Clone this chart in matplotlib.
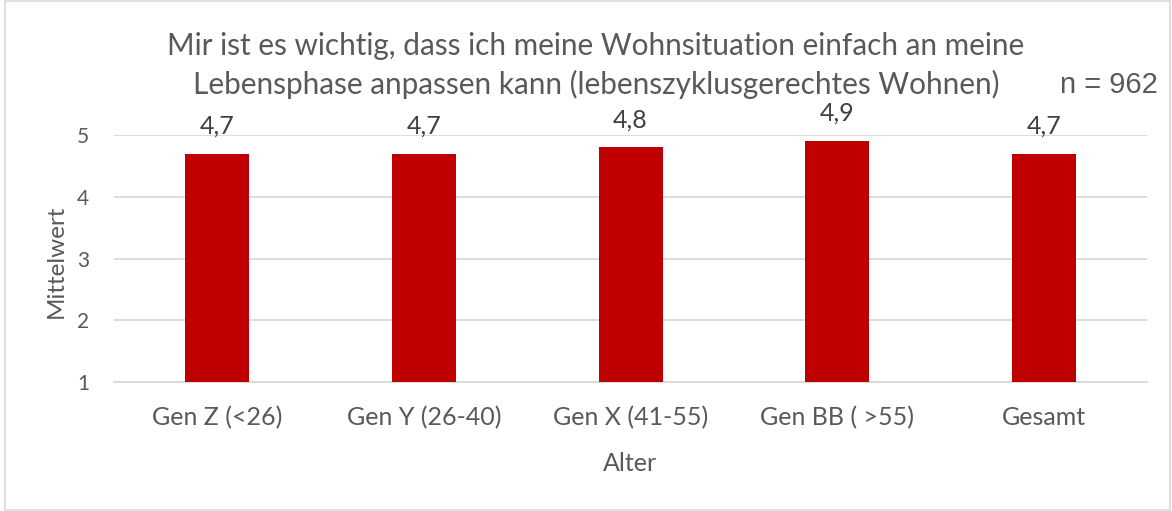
import matplotlib
matplotlib.use("Agg")
import matplotlib.pyplot as plt
from matplotlib.patches import Rectangle

# Mittelwerte nach Altersgruppe
categories = ["Gen Z (<26)", "Gen Y (26-40)", "Gen X (41-55)", "Gen BB ( >55)", "Gesamt"]
values = [4.7, 4.7, 4.8, 4.9, 4.7]
y_ticks = [1, 2, 3, 4, 5]

title = ("Mir ist es wichtig, dass ich meine Wohnsituation einfach an meine\n"
         "Lebensphase anpassen kann (lebenszyklusgerechtes Wohnen)")
sample_note = "n = 962"

text_color = "#595959"
bar_color = "#C00000"
grid_color = "#D9D9D9"

plt.rcParams["font.family"] = ["Lato", "DejaVu Sans"]

fig = plt.figure(figsize=(11.72, 5.11), dpi=100)
ax = fig.add_axes([0.0973, 0.2524, 0.8814, 0.4834])

x = list(range(len(categories)))
ax.bar(x, [v - 1 for v in values], bottom=1, width=0.31, color=bar_color, zorder=3)

for xi, v in zip(x, values):
    ax.annotate(f"{v:.1f}".replace(".", ","), (xi, v), xytext=(0, 14.5),
                textcoords="offset points", ha="center", va="baseline",
                fontsize=18, color="#404040")

ax.set_xlim(-0.5, len(categories) - 0.5)
ax.set_ylim(1, 5)
ax.set_yticks(y_ticks)
ax.set_xticks(x)
ax.set_xticklabels(categories)
ax.yaxis.grid(True, color=grid_color, linewidth=1.3, zorder=0)
ax.set_axisbelow(True)
for s in ax.spines.values():
    s.set_visible(False)
ax.spines["bottom"].set_visible(True)
ax.spines["bottom"].set_color(grid_color)
ax.spines["bottom"].set_linewidth(1.3)
ax.tick_params(axis="both", length=0, colors=text_color)
ax.tick_params(axis="y", labelsize=15, pad=18)
ax.tick_params(axis="x", labelsize=18, pad=17)

ax.set_xlabel("Alter", fontsize=18, color=text_color, va="center")
ax.xaxis.set_label_coords(0.4995, -0.328)
ax.set_ylabel("Mittelwert", fontsize=17.5, color=text_color, va="center")
ax.yaxis.set_label_coords(-0.056, 0.49)

fig.text(0.5085, 0.872, title, ha="center", va="center", fontsize=21.4,
         color=text_color, linespacing=1.42)
fig.text(0.988, 0.833, sample_note, ha="right", va="center", fontsize=21,
         color=text_color, family=["Liberation Sans", "DejaVu Sans"])

# Rahmen um das Diagramm
fig.patches.append(Rectangle((0.004, 0.002), 0.994, 0.997, transform=fig.transFigure,
                             fill=False, edgecolor="#D9D9D9", linewidth=1.2))

fig.savefig("out.png", dpi=100)
